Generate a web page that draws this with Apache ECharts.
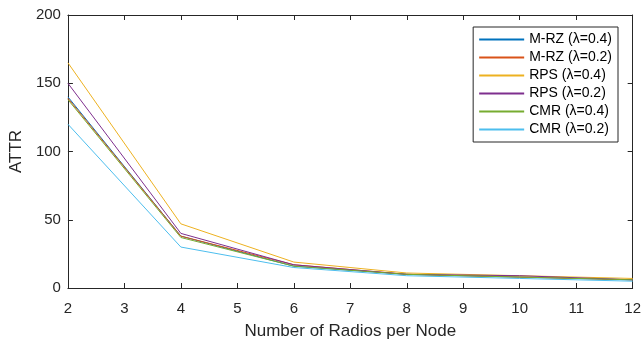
<!DOCTYPE html>
<html><head><meta charset="utf-8">
<script src="https://cdn.jsdelivr.net/npm/echarts@6/dist/echarts.min.js"></script>
<style>html,body{margin:0;padding:0;background:#fff}#c{width:644px;height:345px}</style>
</head><body><div id="c"></div>
<script>
const xValues = [2, 4, 6, 8, 10, 12];
const seriesNames = ['M-RZ (λ=0.4)', 'M-RZ (λ=0.2)', 'RPS (λ=0.4)', 'RPS (λ=0.2)', 'CMR (λ=0.4)', 'CMR (λ=0.2)'];
const mrz04 = [140, 38, 16, 10, 8, 6];
const mrz02 = [139, 38, 17, 10, 8, 6];
const rps04 = [165, 47, 19, 11, 9, 7];
const rps02 = [150, 40, 17, 10, 9, 6];
const cmr04 = [138, 37, 16, 10, 8, 6];
const cmr02 = [120, 30, 15, 9, 7, 5];
const colors = ['#0072BD', '#D95319', '#EDB120', '#7E2F8E', '#77AC30', '#4DBEEE'];
const allData = [mrz04, mrz02, rps04, rps02, cmr04, cmr02];
const font = 'Liberation Sans, Arial, sans-serif';
const chart = echarts.init(document.getElementById('c'));
const axisCommon = {
  axisLine: {show: true, onZero: false, lineStyle: {color: '#262626', width: 1}},
  splitLine: {show: false}
};
chart.setOption({
  animation: false,
  color: colors,
  grid: {left: 64, right: 10, top: 15, bottom: 52, containLabel: false},
  legend: {
    orient: 'vertical', right: 26, top: 27,
    data: seriesNames,
    icon: 'rect', itemWidth: 45, itemHeight: 2, itemGap: 3,
    backgroundColor: '#fff', borderColor: '#262626', borderWidth: 1, borderRadius: 0,
    padding: [5, 6, 5, 6],
    textStyle: {fontFamily: font, fontSize: 14, lineHeight: 15, color: '#000'}
  },
  xAxis: [{
    type: 'value', min: 2, max: 12, interval: 1,
    name: 'Number of Radios per Node', nameLocation: 'middle', nameGap: 35,
    nameTextStyle: {fontFamily: font, fontSize: 17, color: '#262626'},
    axisTick: {show: true, inside: true, length: 5, lineStyle: {color: '#262626'}},
    axisLabel: {fontFamily: font, fontSize: 15, color: '#262626', margin: 13},
    ...axisCommon
  }, {
    type: 'value', min: 2, max: 12, interval: 1, position: 'top',
    axisTick: {show: true, inside: true, length: 5, lineStyle: {color: '#262626'}},
    axisLabel: {show: false}, ...axisCommon
  }],
  yAxis: [{
    type: 'value', min: 0, max: 200, interval: 50,
    name: 'ATTR', nameLocation: 'middle', nameGap: 38, nameRotate: 90,
    nameTextStyle: {fontFamily: font, fontSize: 17, color: '#262626'},
    axisTick: {show: true, inside: true, length: 5, lineStyle: {color: '#262626'}},
    axisLabel: {fontFamily: font, fontSize: 15, color: '#262626', margin: 7},
    ...axisCommon
  }, {
    type: 'value', min: 0, max: 200, interval: 50, position: 'right',
    axisTick: {show: true, inside: true, length: 5, lineStyle: {color: '#262626'}},
    axisLabel: {show: false}, ...axisCommon
  }],
  series: seriesNames.map((n, i) => ({
    name: n, type: 'line', symbol: 'none', xAxisIndex: 0, yAxisIndex: 0,
    lineStyle: {width: 1, color: colors[i]},
    itemStyle: {color: colors[i]},
    data: xValues.map((x, j) => [x, allData[i][j]])
  }))
});
</script></body></html>
